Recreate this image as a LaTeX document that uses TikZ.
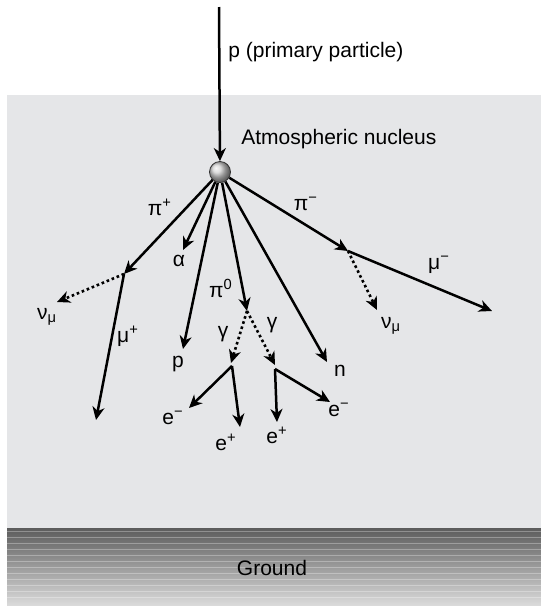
\documentclass[tikz,border=0pt]{standalone}
\usepackage{fontspec}
\setmainfont{Liberation Sans}
\usetikzlibrary{arrows.meta,positioning,shadings}

\definecolor{airgray}{RGB}{229,230,232}
\definecolor{groundtop}{RGB}{92,92,92}
\definecolor{groundbot}{RGB}{218,218,218}

\begin{document}
\begin{tikzpicture}[x=0.5pt,y=-0.5pt,
    track/.style={line width=1.25pt,-{Stealth[length=6.5pt,width=6pt,inset=2pt]}},
    nutrack/.style={line width=1.3pt,dash pattern=on 1.3pt off 1.4pt,-{Stealth[length=6.5pt,width=6pt,inset=2pt]}},
    lbl/.style={inner sep=0pt,font=\fontsize{10.5}{12}\selectfont}]
    \useasboundingbox (0,0) rectangle (541,606);

    % atmosphere and ground
    \fill[airgray] (7,95) rectangle (541,528);
    \shade[top color=groundtop,bottom color=groundbot] (7,528) rectangle (541,605);
    \foreach \yy in {531,537,...,601}
      \draw[white,opacity=0.3,line width=0.5pt] (7,\yy) -- (541,\yy);
    \node[lbl] (ground) at (272,568) {Ground};

    % primary particle and nucleus
    \coordinate (src) at (219,7);
    \node[circle,draw=black!80,line width=0.4pt,ball color=gray!35,minimum size=10.5pt,inner sep=0pt] (nuc) at (220,172) {};
    \draw[track] (src) -- (nuc);
    \node[lbl,anchor=west] (plabel) at (228,52) {p (primary particle)};
    \node[lbl,anchor=west] (nuclabel) at (241,139) {Atmospheric nucleus};

    % vertices and end points
    \coordinate (vpip) at (124,274);
    \coordinate (nuend) at (57,302);
    \coordinate (muend) at (96,420);
    \coordinate (alend) at (183,250);
    \coordinate (pend) at (183,349);
    \coordinate (vpiz) at (247,311);
    \coordinate (vgl) at (232,366);
    \coordinate (vgr) at (275,369);
    \coordinate (gl) at (231,363);
    \coordinate (gr) at (275,365);
    \coordinate (elm) at (189,408);
    \coordinate (elp) at (240,427);
    \coordinate (erp) at (277,422);
    \coordinate (erm) at (330,402);
    \coordinate (nend) at (327,362);
    \coordinate (vpim) at (348,251);
    \coordinate (mumend) at (492,311);
    \coordinate (numend) at (377,310);

    % pi+ branch
    \draw[track] (nuc) -- (vpip);
    \draw[nutrack] (vpip) -- (nuend);
    \draw[track] (vpip) -- (muend);
    \node[lbl] (piplbl) at (160,207) {π\textsuperscript{+}};
    \node[lbl] (nulbl) at (47,317) {ν\textsubscript{μ}};
    \node[lbl] (muplbl) at (128,336) {μ\textsuperscript{+}};

    % alpha, p, n
    \draw[track] (nuc) -- (alend);
    \node[lbl] (allbl) at (179,261) {α};
    \draw[track] (nuc) -- (pend);
    \node[lbl] (plbl) at (178,364) {p};
    \draw[track] (nuc) -- (nend);
    \node[lbl] (nlbl) at (340,371) {n};

    % pi0 branch
    \draw[track] (nuc) -- (vpiz);
    \node[lbl] (pizlbl) at (221,288) {π\textsuperscript{0}};
    \draw[nutrack] (vpiz) -- (gl);
    \draw[nutrack] (vpiz) -- (gr);
    \node[lbl] (gllbl) at (223,334) {γ};
    \node[lbl] (grlbl) at (272,325) {γ};
    \draw[track] (vgl) -- (elm);
    \draw[track] (vgl) -- (elp);
    \draw[track] (vgr) -- (erp);
    \draw[track] (vgr) -- (erm);
    \node[lbl] (elmlbl) at (173,418) {e\textsuperscript{−}};
    \node[lbl] (elplbl) at (226,442) {e\textsuperscript{+}};
    \node[lbl] (erplbl) at (277,435) {e\textsuperscript{+}};
    \node[lbl] (ermlbl) at (339,410) {e\textsuperscript{−}};

    % pi- branch
    \draw[track] (nuc) -- (vpim);
    \draw[track] (vpim) -- (mumend);
    \draw[nutrack] (vpim) -- (numend);
    \node[lbl] (pimlbl) at (306,204) {π\textsuperscript{−}};
    \node[lbl] (mumlbl) at (439,265) {μ\textsuperscript{−}};
    \node[lbl] (numlbl) at (391,326) {ν\textsubscript{μ}};
\end{tikzpicture}
\end{document}
